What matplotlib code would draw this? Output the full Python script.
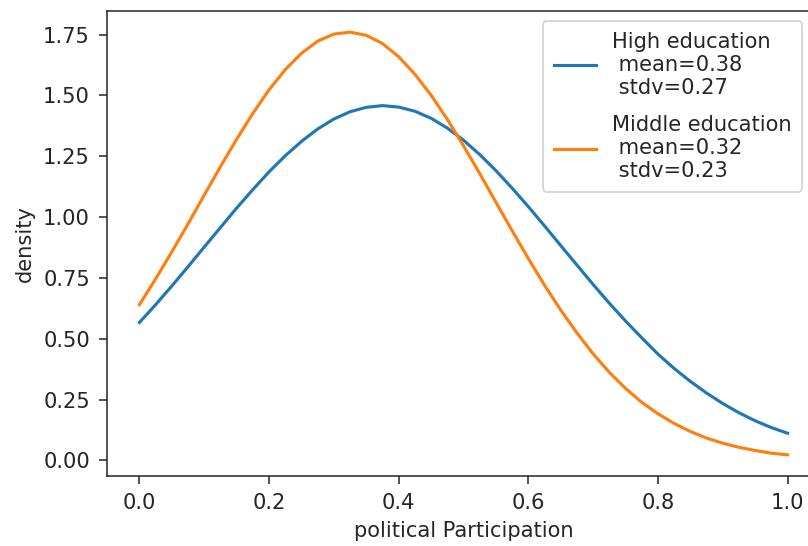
import matplotlib
matplotlib.use("Agg")
import matplotlib.pyplot as plt

x_vals = [0.000, 0.025, 0.050, 0.075, 0.100, 0.125, 0.150, 0.175, 0.200, 0.225,
          0.250, 0.275, 0.300, 0.325, 0.350, 0.375, 0.400, 0.425, 0.450, 0.475,
          0.500, 0.525, 0.550, 0.575, 0.600, 0.625, 0.650, 0.675, 0.700, 0.725,
          0.750, 0.775, 0.800, 0.825, 0.850, 0.875, 0.900, 0.925, 0.950, 0.975,
          1.000]

# density, high education
high_density = [0.567, 0.640, 0.717, 0.796, 0.877, 0.957, 1.037, 1.113, 1.186, 1.252,
                1.311, 1.362, 1.403, 1.433, 1.451, 1.458, 1.452, 1.435, 1.406, 1.366,
                1.316, 1.257, 1.191, 1.119, 1.043, 0.964, 0.883, 0.803, 0.723, 0.646,
                0.573, 0.504, 0.437, 0.378, 0.325, 0.277, 0.234, 0.196, 0.163, 0.135,
                0.112]

# density, middle education
middle_density = [0.640, 0.746, 0.857, 0.972, 1.090, 1.207, 1.320, 1.426, 1.523, 1.606,
                  1.673, 1.723, 1.752, 1.760, 1.747, 1.713, 1.659, 1.587, 1.501, 1.402,
                  1.293, 1.179, 1.061, 0.944, 0.830, 0.720, 0.618, 0.524, 0.438, 0.362,
                  0.296, 0.239, 0.192, 0.152, 0.119, 0.092, 0.071, 0.054, 0.041, 0.030,
                  0.023]

labels = ["High education\n mean=0.38\n stdv=0.27",
          "Middle education\n mean=0.32\n stdv=0.23"]

plt.rcParams["font.size"] = 10.8
plt.rcParams["text.color"] = "#262626"
plt.rcParams["axes.labelcolor"] = "#262626"
plt.rcParams["xtick.color"] = "#262626"
plt.rcParams["ytick.color"] = "#262626"
plt.rcParams["axes.edgecolor"] = "#262626"

fig = plt.figure(figsize=(808/140, 546/140), dpi=140)
# axes runs a bit past the right edge, as in the cropped original
ax = fig.add_axes([107/808, 1 - 476/546, 713/808, 465/546])

ax.plot(x_vals, high_density, label=labels[0], lw=1.6)
ax.plot(x_vals, middle_density, label=labels[1], lw=1.6)

ax.set_xlabel("political Participation")
ax.set_ylabel("density")
ax.set_xticks([0.0, 0.2, 0.4, 0.6, 0.8, 1.0])
ax.set_yticks([0.0, 0.25, 0.5, 0.75, 1.0, 1.25, 1.5, 1.75])
ax.tick_params(length=4.3, pad=4.5)
ax.legend(loc="upper left", bbox_to_anchor=(543/808, 1 - 21/546),
          bbox_transform=fig.transFigure, borderaxespad=0,
          labelspacing=0.8, borderpad=0.5)

fig.savefig("out.png", dpi=140)
